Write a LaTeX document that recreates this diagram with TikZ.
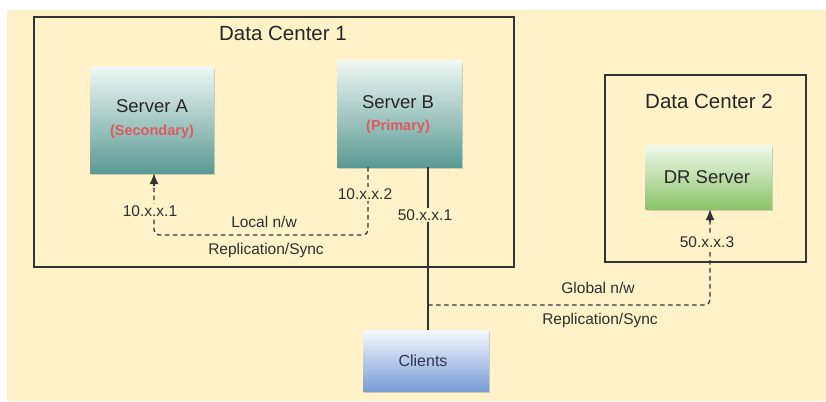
\documentclass[tikz,border=0pt]{standalone}
\usepackage{fontspec}
\setmainfont{Liberation Sans}
\usetikzlibrary{arrows.meta,shadows}
\definecolor{bgyel}{HTML}{FFF2C8}
\definecolor{edge}{HTML}{333333}
\definecolor{redtx}{HTML}{DF5A60}
\definecolor{tealT}{HTML}{EEF7F3}
\definecolor{tealM}{HTML}{A6CFC7}
\definecolor{tealB}{HTML}{5B9A94}
\definecolor{grnT}{HTML}{F1F9EB}
\definecolor{grnM}{HTML}{B9DDA0}
\definecolor{grnB}{HTML}{8BC36B}
\definecolor{bluT}{HTML}{F6F8FD}
\definecolor{bluM}{HTML}{B4C8EC}
\definecolor{bluB}{HTML}{7A9DD7}
\definecolor{navytx}{HTML}{2B3552}
\tikzset{
  dcbox/.style={draw=edge, line width=1.5pt},
  boxbase/.style={inner sep=0pt, drop shadow={shadow xshift=1pt, shadow yshift=-2pt, opacity=0.35}},
  tealbox/.style={boxbase, top color=tealT, middle color=tealM, bottom color=tealB},
  grnbox/.style={boxbase, top color=grnT, middle color=grnM, bottom color=grnB},
  blubox/.style={boxbase, top color=bluT, middle color=bluM, bottom color=bluB},
  title/.style={font=\fontsize{20.5}{24}\selectfont, text=black!85},
  srvname/.style={font=\fontsize{18.5}{22}\selectfont, text=black!85},
  role/.style={font=\bfseries\fontsize{14.5}{17}\selectfont, text=redtx},
  lbl/.style={font=\fontsize{15.5}{18}\selectfont, text=black!82, inner sep=1.5pt},
  lblfill/.style={lbl, fill=bgyel},
  dashln/.style={line width=1.3pt, edge, dash pattern=on 4.5pt off 3.5pt, rounded corners=5pt},
  solidln/.style={line width=1.3pt, edge},
  tipln/.style={line width=1.3pt, edge, -{Latex[length=11pt,width=9pt]}}
}
\begin{document}
\begin{tikzpicture}[x=1pt,y=-1pt]
\useasboundingbox (0,0) rectangle (826,401);
\fill[white] (0,0) rectangle (826,401);
\fill[bgyel] (7,10) rectangle (826,401);
% data center frames
\draw[dcbox] (34,17) rectangle (514,267);
\draw[dcbox] (605,75) rectangle (806,262);
\node[title] (dc1t) at (283,33) {Data Center 1};
\node[title] (dc2t) at (709,101) {Data Center 2};
% servers
\node[tealbox, minimum width=124pt, minimum height=106pt] (srvA) at (152,120) {};
\node[srvname] (srvAn) at (152,106) {Server A};
\node[role] (srvAr) at (152,131.5) {(Secondary)};
\node[tealbox, minimum width=125pt, minimum height=106pt] (srvB) at (399.5,114) {};
\node[srvname] (srvBn) at (398,102) {Server B};
\node[role] (srvBr) at (398,126.5) {(Primary)};
\node[grnbox, minimum width=126pt, minimum height=64pt] (dr) at (708.5,177) {};
\node[srvname] (drn) at (707,177) {DR Server};
\node[blubox, minimum width=126pt, minimum height=61pt] (cli) at (426,360.5) {};
\node[font=\fontsize{16}{19}\selectfont, text=navytx] (clin) at (423,361) {Clients};
% helper coordinates
\coordinate (bx) at (428,0);
\coordinate (lx) at (368,0);
\coordinate (ax) at (154,0);
\coordinate (gx) at (710,0);
\coordinate (gj) at (428,305);
\coordinate (aTip) at (srvA.south -| ax);
\coordinate (aTail) at (154,186);
\coordinate (gTip) at (dr.south -| gx);
\coordinate (gTail) at (710,222);
% solid client line
\draw[solidln] (srvB.south -| bx) -- (cli.north -| bx);
\node[lblfill] (ip501) at (425,215) {50.x.x.1};
% local replication
\draw[dashln] (srvB.south -| lx) -- (368,235) -- (154,235) -- (aTail);
\draw[tipln] (aTail) -- (aTip);
\node[lblfill] (ip102) at (365,194) {10.x.x.2};
\node[lblfill] (ip101) at (150,211) {10.x.x.1};
\node[lbl] (locnw) at (264,222) {Local n/w};
\node[lbl] (locrep) at (266,250) {Replication/Sync};
% global replication
\draw[dashln] (gj) -- (710,305) -- (gTail);
\draw[tipln] (gTail) -- (gTip);
\node[lblfill] (ip503) at (707,242) {50.x.x.3};
\node[lbl] (glbnw) at (598,288) {Global n/w};
\node[lbl] (glbrep) at (600,320) {Replication/Sync};
\end{tikzpicture}
\end{document}
